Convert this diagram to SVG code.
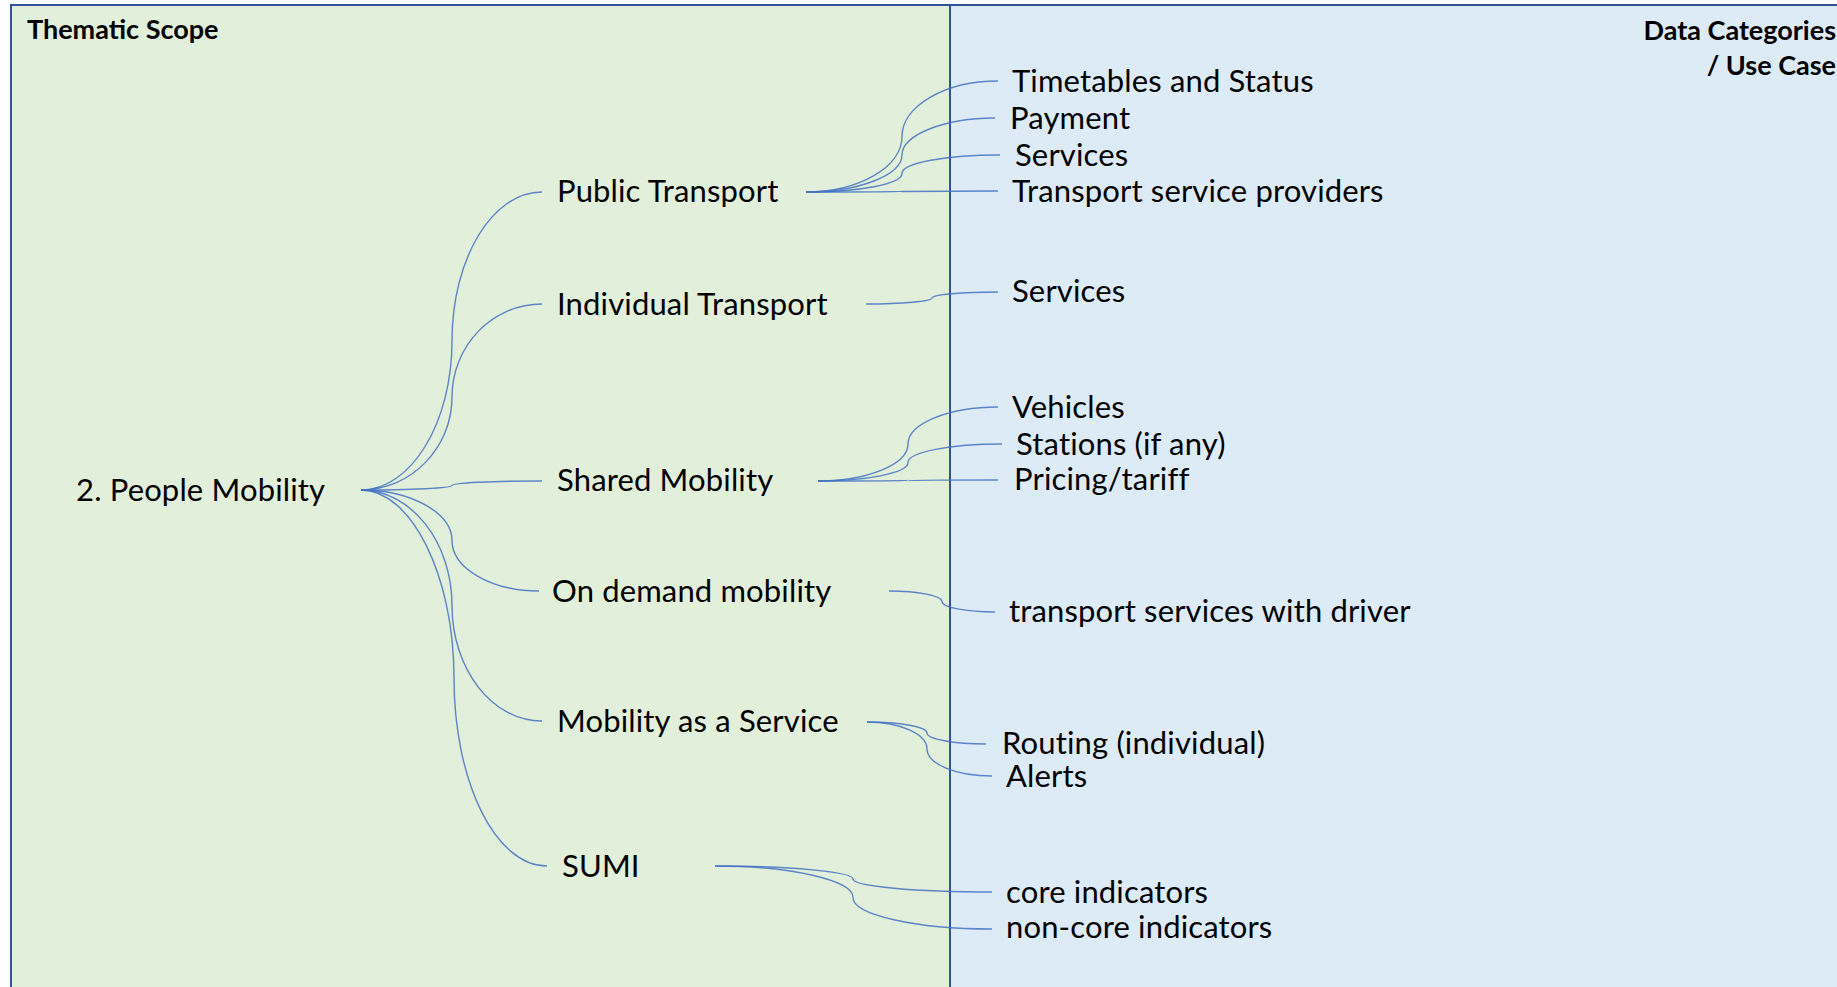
<svg xmlns="http://www.w3.org/2000/svg" width="1837" height="987" viewBox="0 0 1837 987">
<style>
text{font-family:Lato,"Liberation Sans",sans-serif;fill:#000}
.n{font-size:31px;letter-spacing:0.15px}
.h{font-size:27px;font-weight:bold}
.c path{fill:none;stroke:#4472C4;stroke-width:1.4;stroke-opacity:0.85}
</style>
<rect width="1837" height="987" fill="#ffffff"/>
<g id="panels">
<rect x="11" y="5" width="939" height="990" fill="#E2EFDA" stroke="#2F5597" stroke-width="2"/>
<rect x="950" y="5" width="900" height="990" fill="#DDEBF7" stroke="#2F5597" stroke-width="2"/>
</g>
<g id="header-left"><text class="h" x="27" y="39">Thematic Scope</text></g>
<g id="header-right"><text class="h" x="1836" y="40" text-anchor="end">Data Categories</text><text class="h" x="1836" y="75" text-anchor="end">/ Use Case</text></g>
<g class="c" id="connectors">
<path d="M361,490 C411,490 452,423 452,341 C452,259 492,192 542,192"/>
<path d="M361,490 C411,490 452,448 452,397 C452,346 492,304 542,304"/>
<path d="M361,490 C411,490 452,488 452,485.5 C452,483 492,481 542,481"/>
<path d="M361,490 C411,490 452,513 452,540.5 C452,568 491,591 539,591"/>
<path d="M361,490 C411,490 452,542 452,605.5 C452,669 492,721 542,721"/>
<path d="M361,490 C411,490 454,575 454,678 C454,781 495,866 547,866"/>
<path d="M806,192 C859,192 902,167 902,136.5 C902,106 945,81 998,81"/>
<path d="M806,192 C859,192 902,175 902,155 C902,135 944,118 995,118"/>
<path d="M806,192 C859,192 902,184 902,173.5 C902,163 946,155 1000,155"/>
<path d="M806,192 C859,192 902,191.8 902,191.5 C902,191.2 945,191 998,191"/>
<path d="M866,304 C902,304 932,301.3 932,298 C932,294.7 962,292 998,292"/>
<path d="M818,481 C867.5,481 908,464.4 908,444 C908,423.7 948.5,407 998,407"/>
<path d="M818,481 C867.5,481 908,472.7 908,462.5 C908,452.3 950,444 1002,444"/>
<path d="M818,481 C867,481 908,480.8 908,480.5 C908,480.2 948,480 998,480"/>
<path d="M889,591 C918,591 942,595.7 942,601.5 C942,607.3 966,612 995,612"/>
<path d="M867,722 C900,722 927,727 927,733 C927,739 953.5,744 986,744"/>
<path d="M867,722 C900,722 927,734.2 927,749 C927,763.9 956,776 992,776"/>
<path d="M715,866 C791,866 853,871.9 853,879 C853,886.2 915.5,892 992,892"/>
<path d="M715,866 C791,866 853,880.2 853,897.5 C853,914.8 915.5,929 992,929"/>
</g>
<g id="people-mobility"><text class="n" x="76" y="501">2. People Mobility</text></g>
<g id="public-transport"><text class="n" x="557" y="202">Public Transport</text></g>
<g id="individual-transport"><text class="n" x="557" y="315">Individual Transport</text></g>
<g id="shared-mobility"><text class="n" x="557" y="491">Shared Mobility</text></g>
<g id="on-demand-mobility"><text class="n" x="552" y="602">On demand mobility</text></g>
<g id="maas"><text class="n" x="557" y="732">Mobility as a Service</text></g>
<g id="sumi"><text class="n" x="562" y="877">SUMI</text></g>
<g id="timetables"><text class="n" x="1012" y="92">Timetables and Status</text></g>
<g id="payment"><text class="n" x="1010" y="129">Payment</text></g>
<g id="pt-services"><text class="n" x="1015" y="166">Services</text></g>
<g id="tsp"><text class="n" x="1012" y="202">Transport service providers</text></g>
<g id="it-services"><text class="n" x="1012" y="302">Services</text></g>
<g id="vehicles"><text class="n" x="1012" y="418">Vehicles</text></g>
<g id="stations"><text class="n" x="1016" y="455">Stations (if any)</text></g>
<g id="pricing"><text class="n" x="1014" y="490">Pricing/tariff</text></g>
<g id="with-driver"><text class="n" x="1009" y="622">transport services with driver</text></g>
<g id="routing"><text class="n" x="1002" y="754">Routing (individual)</text></g>
<g id="alerts"><text class="n" x="1006" y="787">Alerts</text></g>
<g id="core"><text class="n" x="1006" y="903">core indicators</text></g>
<g id="non-core"><text class="n" x="1006" y="938">non-core indicators</text></g>
</svg>
